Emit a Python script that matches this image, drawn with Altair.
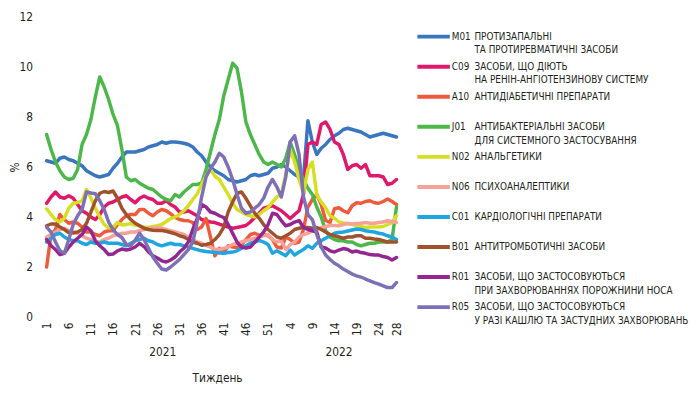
import altair as alt
import pandas as pd

# ---------------- data ----------------
tick_positions = [1, 6, 11, 16, 21, 26, 31, 36, 41, 46, 51, 56, 61, 66, 71, 76, 80]
years = ["2021", "2022"]
year_centers = [27.2, 67.0]

codes = ["M01", "C09", "A10", "J01", "N02", "N06", "C01", "B01", "R01", "R05"]
line1 = ["ПРОТИЗАПАЛЬНІ", "ЗАСОБИ, ЩО ДІЮТЬ", "АНТИДІАБЕТИЧНІ ПРЕПАРАТИ",
         "АНТИБАКТЕРІАЛЬНІ ЗАСОБИ", "АНАЛЬГЕТИКИ", "ПСИХОАНАЛЕПТИКИ",
         "КАРДІОЛОГІЧНІ ПРЕПАРАТИ", "АНТИТРОМБОТИЧНІ ЗАСОБИ",
         "ЗАСОБИ, ЩО ЗАСТОСОВУЮТЬСЯ", "ЗАСОБИ, ЩО ЗАСТОСОВУЮТЬСЯ"]
line2 = ["ТА ПРОТИРЕВМАТИЧНІ ЗАСОБИ", "НА РЕНІН-АНГІОТЕНЗИНОВУ СИСТЕМУ", "",
         "ДЛЯ СИСТЕМНОГО ЗАСТОСУВАННЯ", "", "", "", "",
         "ПРИ ЗАХВОРЮВАННЯХ ПОРОЖНИНИ НОСА", "У РАЗІ КАШЛЮ ТА ЗАСТУДНИХ ЗАХВОРЮВАНЬ"]
colors = ["#3a76c0", "#e0186c", "#f05a3c", "#4cb84a", "#d7df23",
          "#f7a19b", "#1da6df", "#a0522d", "#93278f", "#7d70b6"]

M01 = [6.25, 6.2, 6.15, 6.35, 6.4, 6.3, 6.25, 6.15, 6.05, 5.85,
       5.75, 5.65, 5.6, 5.65, 5.7, 5.95, 6.15, 6.4, 6.6, 6.6,
       6.6, 6.65, 6.7, 6.8, 6.85, 6.9, 7.0, 6.95, 7.0, 7.0,
       6.98, 6.95, 6.9, 6.8, 6.6, 6.45, 6.2, 6.0, 5.85, 5.75,
       5.65, 5.5, 5.45, 5.4, 5.45, 5.5, 5.65, 5.7, 5.65, 5.7,
       5.75, 5.95, 6.0, 6.1, 6.0, 5.85, 5.7, 5.6, 5.55, 7.85,
       7.0, 6.5, 6.75, 6.9, 7.1, 7.25, 7.35, 7.5, 7.55, 7.5,
       7.45, 7.4, 7.3, 7.2, 7.25, 7.3, 7.35, 7.3, 7.25, 7.2]
C09 = [4.55, 4.8, 5.0, 4.8, 4.75, 4.85, 4.75, 4.5, 4.25, 4.15,
       4.0, 3.9, 4.1, 4.4, 4.55, 4.6, 4.7, 4.8, 4.85, 4.7,
       4.57, 4.75, 4.84, 4.75, 4.7, 4.55, 4.55, 4.65, 4.5, 4.4,
       4.2, 4.2, 4.25, 4.15, 4.05, 3.9, 3.85, 3.8, 3.78, 3.72,
       3.66, 3.6, 3.55, 3.58, 3.62, 3.66, 3.8, 3.98, 4.15, 4.35,
       4.4, 4.45, 4.35, 4.25, 4.1, 3.94, 4.1, 4.25, 4.9, 6.9,
       7.0, 6.9, 7.7, 7.8, 7.5, 7.0, 6.9, 6.5, 5.9, 6.05,
       6.1, 5.95, 6.1, 5.65, 5.65, 5.65, 5.6, 5.3, 5.35, 5.5]
A10 = [2.0, 3.3, 3.5, 4.1, 3.9, 3.75, 3.8, 3.75, 3.6, 3.4,
       3.4, 3.3, 3.25, 3.4, 3.45, 3.45, 3.7, 3.9, 4.05, 4.1,
       4.1, 4.3, 4.3, 4.15, 4.05, 4.2, 4.3, 4.25, 4.13, 3.98,
       3.9, 3.86, 3.85, 3.78, 3.5, 3.6, 3.94, 3.2, 2.45, 2.75,
       2.56, 2.85, 2.8, 2.78, 2.87, 3.1, 3.3, 3.35, 3.27, 3.3,
       3.25, 3.1, 2.8, 2.76, 3.2, 3.1, 2.95, 3.0, 3.5, 4.4,
       4.7, 4.9, 4.5, 3.86, 3.78, 4.33, 4.37, 4.25, 4.17, 4.45,
       4.57, 4.55, 4.62, 4.65, 4.57, 4.55, 4.62, 4.72, 4.62, 4.5]
J01 = [7.3, 6.7, 6.2, 5.85, 5.6, 5.5, 5.55, 5.9, 6.9, 7.3,
       7.9, 8.8, 9.6, 9.2, 8.7, 8.1, 7.65, 6.7, 5.6, 5.45,
       5.5, 5.35, 5.25, 5.15, 5.1, 4.95, 4.8, 4.7, 4.65, 4.9,
       4.8, 5.0, 5.15, 5.3, 5.3, 5.35, 5.9, 6.6, 7.3, 7.9,
       8.85, 9.5, 10.15, 9.95, 9.0, 7.8, 7.3, 6.9, 6.5, 6.2,
       6.1, 6.2, 6.1, 6.0, 6.35, 7.0, 6.5, 5.9, 5.5, 5.15,
       4.9, 4.4, 4.0, 3.45, 3.2, 3.1, 3.05, 3.05, 3.0, 3.0,
       2.9, 2.85, 2.9, 2.95, 2.95, 3.0, 3.0, 3.0, 3.1, 4.4]
N02 = [4.33, 4.1, 3.9, 3.8, 3.95, 4.35, 4.55, 4.58, 4.65, 5.1,
       4.76, 4.35, 4.0, 3.7, 3.56, 3.6, 3.78, 3.68, 3.7, 3.74,
       3.68, 3.64, 3.6, 3.58, 3.62, 3.65, 3.7, 3.82, 3.94, 4.0,
       4.1, 4.25, 4.45, 4.7, 4.92, 5.3, 5.65, 5.9, 5.63, 5.5,
       5.2, 4.9, 4.55, 4.3, 4.2, 4.1, 4.05, 4.0, 4.1, 4.25,
       4.37, 4.6, 4.8, 4.92, 5.7, 6.7, 6.2, 5.5, 4.95, 5.9,
       6.2, 4.9, 4.6, 4.37, 4.05, 3.95, 3.8, 3.76, 3.74, 3.7,
       3.66, 3.62, 3.58, 3.6, 3.6, 3.6, 3.62, 3.7, 3.78, 4.05]
N06 = [3.2, 3.3, 3.4, 3.5, 3.55, 3.45, 3.4, 3.35, 3.25, 3.15,
       3.1, 3.0, 3.0, 3.1, 3.15, 3.25, 3.3, 3.35, 3.35, 3.4,
       3.4, 3.45, 3.5, 3.55, 3.55, 3.58, 3.55, 3.5, 3.45, 3.4,
       3.35, 3.3, 3.2, 3.1, 3.0, 2.95, 2.87, 2.8, 2.7, 2.7,
       2.75, 2.8, 2.9, 2.95, 3.0, 3.05, 3.1, 3.15, 3.2, 3.25,
       3.3, 3.1, 3.0, 3.05, 2.7, 2.9, 3.0, 3.2, 3.3, 3.35,
       3.45, 3.5, 3.58, 3.62, 3.66, 3.66, 3.65, 3.7, 3.74, 3.72,
       3.74, 3.75, 3.78, 3.75, 3.75, 3.78, 3.8, 3.85, 3.82, 3.78]
C01 = [3.0, 3.15, 3.3, 3.35, 3.2, 3.1, 3.05, 3.05, 2.95, 2.9,
       3.0, 2.95, 2.95, 3.0, 2.95, 2.95, 2.95, 2.9, 2.85, 2.95,
       3.05, 3.1, 3.15, 3.05, 3.0, 2.9, 2.85, 2.9, 2.95, 2.9,
       2.9, 2.85, 2.8, 2.75, 2.7, 2.65, 2.62, 2.6, 2.58, 2.56,
       2.55, 2.58, 2.6, 2.65, 2.75, 2.85, 2.95, 3.0, 3.07, 3.0,
       2.9, 2.55, 2.65, 2.55, 2.45, 2.68, 2.48, 2.6, 2.7, 2.85,
       2.75, 2.95, 3.05, 3.15, 3.25, 3.35, 3.38, 3.4, 3.44, 3.48,
       3.52, 3.5, 3.45, 3.42, 3.4, 3.35, 3.32, 3.25, 3.2, 3.1]
B01 = [3.65, 3.72, 3.72, 3.6, 3.5, 3.38, 3.36, 3.4, 3.5, 3.75,
       4.2, 4.65, 4.95, 5.02, 4.98, 5.04, 4.75, 4.35, 4.1, 3.9,
       3.75, 3.65, 3.55, 3.5, 3.47, 3.46, 3.46, 3.43, 3.38, 3.33,
       3.25, 3.2, 3.1, 3.0, 2.95, 2.87, 2.9, 2.95, 3.1, 3.3,
       3.6, 4.2, 4.6, 4.95, 5.0, 4.75, 4.45, 4.15, 3.95, 3.7,
       3.5, 3.35, 3.2, 3.15, 3.25, 3.35, 3.5, 3.55, 3.58, 3.58,
       3.55, 3.58, 3.5, 3.4, 3.3, 3.25, 3.2, 3.15, 3.2, 3.2,
       3.25, 3.25, 3.15, 3.15, 3.12, 3.1, 3.05, 3.0, 3.0, 3.0]
R01 = [3.1, 2.85, 2.7, 2.5, 2.55, 2.8, 3.0, 3.15, 3.3, 3.6,
       3.45, 3.05, 2.85, 2.7, 2.5, 2.52, 2.65, 2.72, 2.68, 2.72,
       2.8, 2.95, 2.82, 2.6, 2.45, 2.36, 2.25, 2.2, 2.28, 2.4,
       2.6, 2.75, 3.0, 3.5, 3.94, 4.5, 4.4, 4.2, 4.15, 4.05,
       3.98, 3.7, 3.35, 3.0, 2.8, 2.76, 2.8, 3.0, 3.2, 3.4,
       3.7, 4.15, 4.1, 3.86, 3.65, 3.7, 3.8, 3.86, 3.58, 3.5,
       3.45, 3.4, 2.8, 2.76, 2.65, 2.6, 2.68, 2.74, 2.7, 2.6,
       2.64, 2.58, 2.55, 2.5, 2.48, 2.48, 2.42, 2.38, 2.28, 2.38]
R05 = [3.6, 3.4, 3.0, 2.65, 2.55, 3.1, 3.7, 4.05, 4.3, 5.0,
       4.96, 4.93, 4.65, 4.3, 3.8, 3.5, 3.3, 3.18, 2.9, 2.85,
       3.07, 3.35, 3.1, 2.75, 2.4, 2.15, 1.92, 1.88, 2.0, 2.15,
       2.3, 2.5, 2.7, 3.0, 3.8, 4.8, 5.6, 5.95, 6.2, 6.55,
       6.4, 6.0, 5.5, 4.9, 4.35, 4.15, 4.2, 4.35, 4.5, 4.75,
       5.2, 5.5, 5.2, 4.8, 5.6, 7.0, 7.25, 6.5, 4.8, 4.1,
       3.9, 3.3, 2.8, 2.48, 2.3, 2.15, 2.05, 1.92, 1.82, 1.72,
       1.65, 1.6, 1.52, 1.45, 1.38, 1.32, 1.25, 1.18, 1.18, 1.38]

series_values = [M01, C09, A10, J01, N02, N06, C01, B01, R01, R05]

# ---------------- tables ----------------
rows = []
for code, vals in zip(codes, series_values):
    for i, v in enumerate(vals):
        rows.append({"code": code, "pos": i + 1, "value": v})
df = pd.DataFrame(rows)

FONT = "Liberation Sans Narrow, DejaVu Sans Condensed, Roboto, sans-serif"
TXT = "#231f20"
W, H = 360, 305
LFS = 10

color_scale = alt.Scale(domain=codes, range=colors)
x_scale = alt.Scale(domain=[0.5, 80.5], nice=False, zero=False)
x_axis = alt.Axis(values=tick_positions,
                  labelExpr="datum.value > 52 ? datum.value - 52 : datum.value",
                  labelAngle=-90, labelAlign="right", labelBaseline="middle",
                  labelOverlap=False, domain=False, ticks=False, grid=False,
                  labelPadding=5, title=None)

lines = alt.Chart(df).mark_line(strokeWidth=3.5, strokeJoin="round", strokeCap="round").encode(
    x=alt.X("pos:Q", scale=x_scale, axis=x_axis),
    y=alt.Y("value:Q", scale=alt.Scale(domain=[0, 12], nice=False),
            axis=alt.Axis(values=[0, 2, 4, 6, 8, 10, 12], domain=False, ticks=False,
                          grid=False, title="%", titlePadding=-2, labelPadding=12)),
    color=alt.Color("code:N", scale=color_scale, legend=None),
)

year_df = pd.DataFrame({"year": years, "pos": year_centers})
year_text = alt.Chart(year_df).mark_text(fontSize=12, font=FONT, color=TXT, baseline="middle").encode(
    x=alt.X("pos:Q", scale=x_scale, axis=x_axis), y=alt.value(341), text="year:N")

title_df = pd.DataFrame({"t": ["Тиждень"]})
x_title = alt.Chart(title_df).mark_text(fontSize=12, font=FONT, color=TXT, baseline="middle").encode(
    x=alt.value(176), y=alt.value(367), text="t:N")

left = alt.layer(lines, year_text, x_title).properties(width=W, height=H)

leg_df = pd.DataFrame({"code": codes, "order": list(range(10)), "line1": line1, "line2": line2})
yenc = alt.Y("order:Q", scale=alt.Scale(domain=[-0.655, 9.33], reverse=True, nice=False, zero=False), axis=None)
base = alt.Chart(leg_df)
sw = base.mark_rule(strokeWidth=4).encode(
    x=alt.value(3), x2=alt.value(36), y=yenc,
    color=alt.Color("code:N", scale=color_scale, legend=None))
t_code = base.mark_text(align="left", baseline="middle", fontSize=LFS, font=FONT, color=TXT).encode(
    x=alt.value(38), y=yenc, text="code:N")
t1 = base.mark_text(align="left", baseline="middle", fontSize=LFS, font=FONT, color=TXT).encode(
    x=alt.value(61), y=yenc, text="line1:N")
t2 = base.mark_text(align="left", baseline="middle", fontSize=LFS, font=FONT, color=TXT, dy=14).encode(
    x=alt.value(61), y=yenc, text="line2:N")
legend = alt.layer(sw, t_code, t1, t2).properties(width=250, height=H)

chart = alt.hconcat(left, legend, spacing=12).properties(padding=0).configure_view(
    stroke=None).configure_axis(labelFont=FONT, titleFont=FONT, labelFontSize=12,
                                titleFontSize=12, labelColor=TXT, titleColor=TXT,
                                titleFontWeight="normal")

chart.save("out.html", embed_options={"renderer": "svg", "actions": False})
